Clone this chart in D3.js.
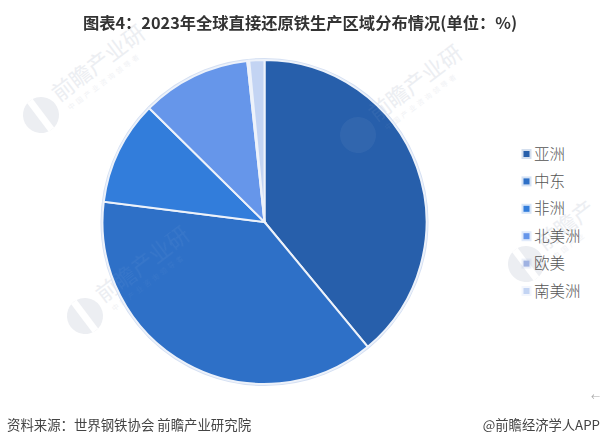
<!DOCTYPE html>
<html>
<head>
<meta charset="utf-8">
<script src="https://cdn.jsdelivr.net/npm/d3@7"></script>
<style>
html, body { margin: 0; padding: 0; background: #fff; }
svg { display: block; }
</style>
</head>
<body>
<div id="vis"></div>
<script>
// data
const regions = ["亚洲", "中东", "非洲", "北美洲", "欧美", "南美洲"];
const shares = [39.0, 38.0, 10.4, 10.9, 0.2, 1.5];
const colors = ["#275fab", "#2e70c7", "#327ddb", "#6696ea", "#9fb2e2", "#c3d4f3"];

const title = "图表4：2023年全球直接还原铁生产区域分布情况(单位：%)";
const source = "资料来源：世界钢铁协会 前瞻产业研究院";
const credit = "@前瞻经济学人APP";

// setting constants
const FRAME_WIDTH = 601;
const FRAME_HEIGHT = 445;
const CENTER = {x: 264.5, y: 222};
const RADIUS = 162;
const CJK = "'Noto Sans CJK SC', sans-serif";

const FRAME = d3.select("#vis")
	.append("svg")
	.attr("width", FRAME_WIDTH)
	.attr("height", FRAME_HEIGHT);

// faint watermarks: x, y, big label, small label
const marks = [
	[41, 115, "前瞻产业研", "中国产业咨询领导者"],
	[85, 316, "前瞻产业研", "中国产业咨询领导者"],
	[358, 135, "前瞻产业研", "中国产业咨询领导者"],
	[526, 264, "前瞻产", "中国产业"]
];

function drawMark(sel, fill, subFill) {
	const g = sel.selectAll(".mark")
		.data(marks)
		.enter()
		.append("g")
			.attr("class", "mark")
			.attr("transform", (d) => "translate(" + d[0] + "," + d[1] + ") rotate(-37)");

	g.append("circle")
		.attr("r", 18)
		.attr("fill", fill);
	g.append("text")
		.attr("x", 22)
		.attr("y", 1)
		.attr("font-family", CJK)
		.attr("font-size", 22)
		.attr("fill", fill)
		.text((d) => d[2]);
	g.append("text")
		.attr("x", 26)
		.attr("y", 14)
		.attr("font-family", CJK)
		.attr("font-size", 7)
		.attr("letter-spacing", 3)
		.attr("fill", subFill)
		.text((d) => d[3]);
	return g;
}

const base = drawMark(FRAME.append("g"), "#eceef2", "#f1f2f5");
base.append("rect")
	.attr("x", -4)
	.attr("y", -18)
	.attr("width", 7)
	.attr("height", 36)
	.attr("fill", "#fff");

// pie
const PIE = d3.pie().sort(null).value((d) => d)(shares);
const ARC = d3.arc().innerRadius(0).outerRadius(RADIUS);

const G = FRAME.append("g")
	.attr("transform", "translate(" + CENTER.x + "," + CENTER.y + ")");

G.append("circle")
	.attr("r", RADIUS + 1)
	.attr("fill", "none")
	.attr("stroke", "#d5e0f3")
	.attr("stroke-width", 2);

G.selectAll(".slice")
	.data(PIE)
	.enter()
	.append("path")
		.attr("class", "slice")
		.attr("d", ARC)
		.attr("fill", (d, i) => colors[i])
		.attr("stroke", "#edf2fa")
		.attr("stroke-width", 2);

// the watermark shows through the pie very slightly
const clip = FRAME.append("clipPath").attr("id", "pie-clip");
clip.append("circle")
	.attr("cx", CENTER.x)
	.attr("cy", CENTER.y)
	.attr("r", RADIUS);
const over = FRAME.append("g")
	.attr("clip-path", "url(#pie-clip)")
	.attr("opacity", 0.05);
drawMark(over, "#fff", "#fff");

// legend
const LEGEND_Y = d3.scalePoint()
	.domain(regions)
	.range([154, 291]);

const legend = FRAME.selectAll(".legend")
	.data(regions)
	.enter()
	.append("g")
		.attr("class", "legend")
		.attr("transform", (d) => "translate(526.5," + LEGEND_Y(d) + ")");

legend.append("rect")
	.attr("x", -5)
	.attr("y", -5)
	.attr("width", 10)
	.attr("height", 10)
	.attr("fill", (d, i) => colors[i])
	.attr("fill-opacity", 0.2);
legend.append("rect")
	.attr("x", -3)
	.attr("y", -3)
	.attr("width", 6)
	.attr("height", 6)
	.attr("fill", (d, i) => colors[i]);
legend.append("text")
	.attr("x", 7.5)
	.attr("y", 5.5)
	.attr("font-family", CJK)
	.attr("font-size", 15.5)
	.attr("font-weight", 300)
	.attr("fill", "#555")
	.text((d) => d);

// title and footer
FRAME.append("text")
	.attr("x", 300)
	.attr("y", 29)
	.attr("text-anchor", "middle")
	.attr("font-family", CJK)
	.attr("font-weight", "bold")
	.attr("font-size", 16.3)
	.attr("fill", "#333")
	.text(title);

FRAME.append("text")
	.attr("x", 7)
	.attr("y", 430)
	.attr("font-family", CJK)
	.attr("font-size", 13.4)
	.attr("fill", "#444")
	.text(source);

FRAME.append("text")
	.attr("x", 600)
	.attr("y", 430)
	.attr("text-anchor", "end")
	.attr("font-family", CJK)
	.attr("font-size", 13.3)
	.attr("fill", "#444")
	.text(credit);

FRAME.append("text")
	.attr("x", 600)
	.attr("y", 400)
	.attr("text-anchor", "end")
	.attr("font-family", CJK)
	.attr("font-size", 9)
	.attr("fill", "#aaa")
	.text("←");
</script>
</body>
</html>
